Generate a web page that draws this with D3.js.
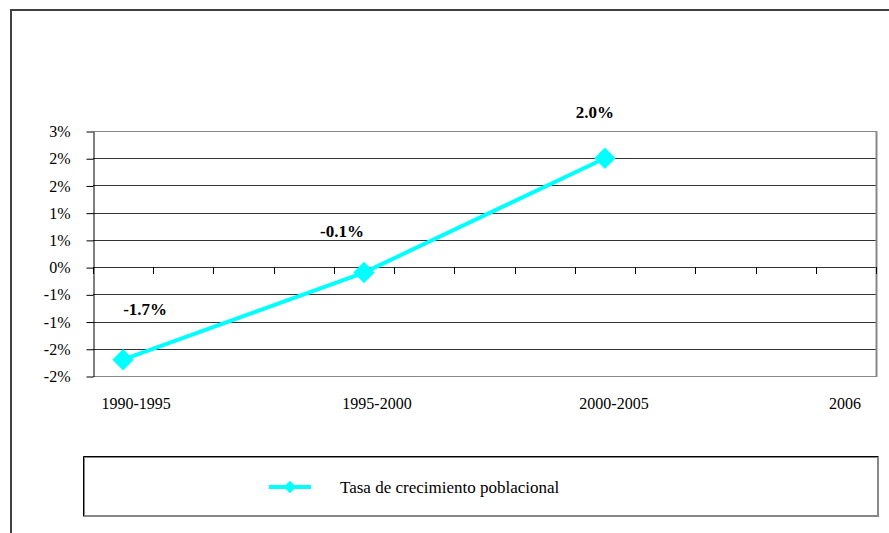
<!DOCTYPE html>
<html>
<head>
<meta charset="utf-8">
<script src="https://cdn.jsdelivr.net/npm/d3@7"></script>
<style>
  html, body { margin: 0; padding: 0; background: #fff; }
  svg { display: block; }
</style>
</head>
<body>
<script>
// Category slots on the horizontal axis (only some carry a label)
const slots = ["1990-1995", "", "", "", "1995-2000", "", "", "", "2000-2005", "", "", "", "2006"];
// Population growth rate (%) per slot; null where there is no value
const rates = [-1.7, null, null, null, -0.1, null, null, null, 2.0, null, null, null, null];
// Vertical axis ticks and their printed labels
const yTicks = [-2, -1.5, -1, -0.5, 0, 0.5, 1, 1.5, 2, 2.5];
const yTickLabels = ["-2%", "-2%", "-1%", "-1%", "0%", "1%", "1%", "2%", "2%", "3%"];
const seriesName = "Tasa de crecimiento poblacional";

const W = 889, H = 533;
const FONT = "'Liberation Serif'";
const plot = { left: 93, right: 876, top: 131, bottom: 376 };
const cyan = "#00FFFF";

const svg = d3.select("body").append("svg")
  .attr("width", W).attr("height", H)
  .attr("font-family", FONT);

// Outer chart frame
svg.append("path")
  .attr("d", `M11,${H + 2} L11,10 L${W + 2},10`)
  .attr("fill", "none").attr("stroke", "#404040").attr("stroke-width", 2);

const x = d3.scaleBand().domain(d3.range(slots.length)).range([plot.left, plot.right]);
const y = d3.scaleLinear().domain([-2, 2.5]).range([plot.bottom, plot.top]);
const cx = i => x(i) + x.bandwidth() / 2;

// Horizontal gridlines
svg.append("g").selectAll("line").data(yTicks).join("line")
  .attr("x1", plot.left).attr("x2", plot.right)
  .attr("y1", d => Math.round(y(d)) + 0.5).attr("y2", d => Math.round(y(d)) + 0.5)
  .attr("stroke", (d, i) => (i === 0 || i === yTicks.length - 1) ? "#888" : "#333")
  .attr("stroke-width", 1);

// Right edge of the plot area
svg.append("line")
  .attr("x1", plot.right + 0.5).attr("x2", plot.right + 0.5)
  .attr("y1", plot.top).attr("y2", plot.bottom + 1)
  .attr("stroke", "#888").attr("stroke-width", 2);

// Vertical axis
const yAxis = d3.axisLeft(y).tickValues(yTicks)
  .tickFormat((d, i) => yTickLabels[i]).tickSize(7).tickPadding(16).tickSizeOuter(0);
const gy = svg.append("g").attr("transform", `translate(${plot.left + 0.5},0.5)`).call(yAxis)
  .attr("font-family", FONT).attr("font-size", 16);
gy.select(".domain").attr("stroke", "#000");
gy.selectAll(".tick line").attr("stroke", "#000");
gy.selectAll(".tick text").attr("font-family", FONT).attr("font-size", 16).attr("fill", "#000");

// Category tick marks along the zero line
const tickXs = d3.range(slots.length).map(i => x(i)).concat([plot.right]);
svg.append("g").selectAll("line").data(tickXs).join("line")
  .attr("x1", d => Math.round(d) + 0.5).attr("x2", d => Math.round(d) + 0.5)
  .attr("y1", Math.round(y(0))).attr("y2", Math.round(y(0)) + 7)
  .attr("stroke", "#000").attr("stroke-width", 1);

// Category labels below the plot
const labelNudge = { 0: 13, 4: 13, 8: 9, 12: -1 };
svg.append("g").selectAll("text").data(slots.map((s, i) => ({ s, i })).filter(d => d.s))
  .join("text")
  .attr("x", d => cx(d.i) + labelNudge[d.i])
  .attr("y", 409)
  .attr("text-anchor", "middle")
  .attr("font-family", FONT).attr("font-size", 16).attr("fill", "#000")
  .text(d => d.s);

// Series line and diamond markers
const pts = rates.map((v, i) => ({ v, i })).filter(d => d.v !== null);
const line = d3.line().x(d => cx(d.i)).y(d => y(d.v));
svg.append("path").datum(pts)
  .attr("d", line).attr("fill", "none")
  .attr("stroke", cyan).attr("stroke-width", 4);

const diamond = d3.symbol().type(d3.symbolSquare).size(230);
svg.append("g").selectAll("path").data(pts).join("path")
  .attr("d", diamond)
  .attr("transform", d => `translate(${cx(d.i)},${y(d.v)}) rotate(45)`)
  .attr("fill", cyan);

// Value labels placed around each marker
const fmt = v => d3.format(".1f")(v).replace("\u2212", "-") + "%";
const labelShift = [[22, -45], [-22, -36], [-10, -40]];
svg.append("g").selectAll("text").data(pts).join("text")
  .attr("x", (d, k) => cx(d.i) + labelShift[k][0])
  .attr("y", (d, k) => y(d.v) + labelShift[k][1])
  .attr("text-anchor", "middle")
  .attr("font-family", FONT).attr("font-size", 17).attr("font-weight", "bold").attr("fill", "#000")
  .text(d => fmt(d.v));

// Legend box
const lg = svg.append("g");
lg.append("rect").attr("x", 84).attr("y", 457).attr("width", 794).attr("height", 59)
  .attr("fill", "#fff").attr("stroke", "#888").attr("stroke-width", 2);
lg.append("path").attr("d", "M83.5,516 L83.5,456.5 L878,456.5")
  .attr("fill", "none").attr("stroke", "#000").attr("stroke-width", 1);
lg.append("line").attr("x1", 269).attr("x2", 311).attr("y1", 487).attr("y2", 487)
  .attr("stroke", cyan).attr("stroke-width", 4);
lg.append("path").attr("d", d3.symbol().type(d3.symbolSquare).size(80))
  .attr("transform", "translate(290,487) rotate(45)").attr("fill", cyan);
lg.append("text").attr("x", 340).attr("y", 493)
  .attr("font-family", FONT).attr("font-size", 17).attr("fill", "#000")
  .text(seriesName);
</script>
</body>
</html>
